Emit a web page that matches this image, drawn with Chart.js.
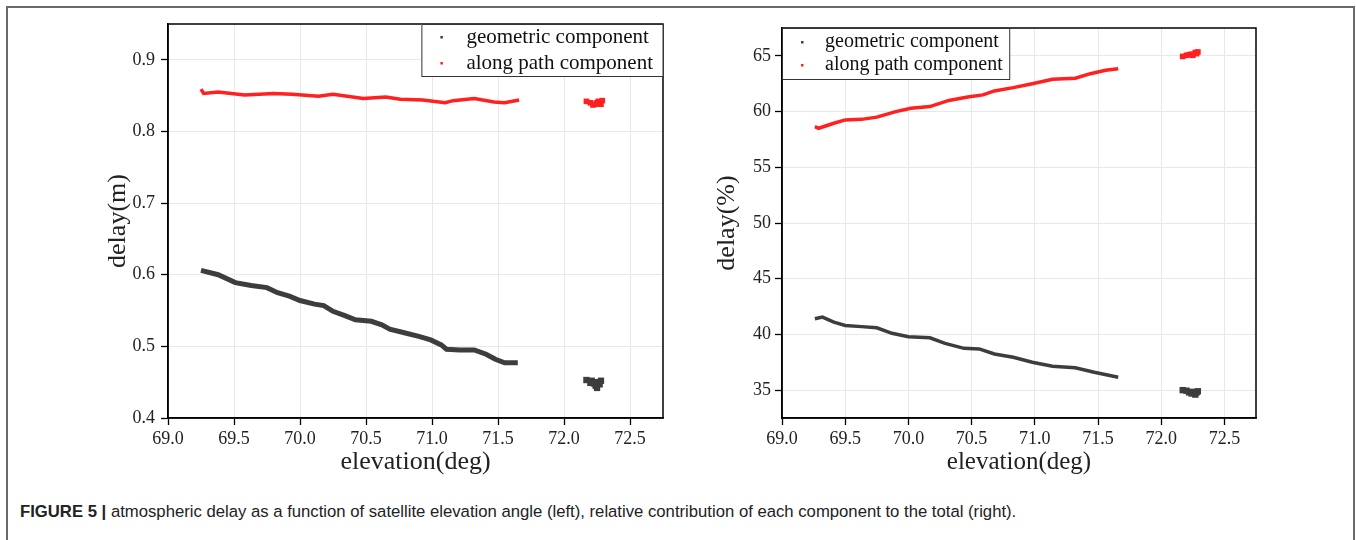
<!DOCTYPE html>
<html>
<head>
<meta charset="utf-8">
<script src="https://cdn.jsdelivr.net/npm/chart.js@4.4.1/dist/chart.umd.min.js"></script>
<style>
  body { margin: 0; background: #fff; width: 1356px; height: 540px; overflow: hidden; position: relative; }
  #frame { position: absolute; left: 6px; top: 6px; width: 1345px; height: 600px;
           border: 2px solid #6a6a6a; border-bottom: none; }
  canvas { position: absolute; top: 0; }
  #c1 { left: 90px; }
  #c2 { left: 690px; }
  #caption { position: absolute; left: 20px; top: 502px; font: 16.7px "Liberation Sans", Arial, sans-serif; color: #222; white-space: nowrap; }
  #caption b { font-weight: bold; }
</style>
</head>
<body>
<div id="frame"></div>
<canvas id="c1" width="590" height="480"></canvas>
<canvas id="c2" width="580" height="480"></canvas>
<div id="caption"><b>FIGURE 5 |</b> atmospheric delay as a function of satellite elevation angle (left), relative contribution of each component to the total (right).</div>
<script>
// ---- data ----
var xTicks = [69.0, 69.5, 70.0, 70.5, 71.0, 71.5, 72.0, 72.5];
var yTicksL = [0.4, 0.5, 0.6, 0.7, 0.8, 0.9];
var yTicksR = [35, 40, 45, 50, 55, 60, 65];

// left: delay (m)
var geoElevL = [69.25, 69.38, 69.51, 69.63, 69.75, 69.83, 69.92, 70.0, 70.11, 70.18, 70.25, 70.34, 70.42, 70.54, 70.62, 70.68, 70.79, 70.9, 70.99, 71.07, 71.11, 71.21, 71.32, 71.41, 71.48, 71.55, 71.65];
var geoDelayL = [0.606, 0.600, 0.589, 0.585, 0.582, 0.575, 0.570, 0.564, 0.559, 0.557, 0.549, 0.543, 0.537, 0.535, 0.530, 0.524, 0.519, 0.514, 0.509, 0.502, 0.496, 0.495, 0.495, 0.489, 0.482, 0.477, 0.477];
var pathElevL = [69.25, 69.27, 69.38, 69.58, 69.8, 69.94, 70.14, 70.25, 70.48, 70.65, 70.76, 70.93, 71.1, 71.16, 71.32, 71.47, 71.55, 71.66];
var pathDelayL = [0.859, 0.853, 0.855, 0.851, 0.853, 0.852, 0.849, 0.852, 0.846, 0.848, 0.845, 0.844, 0.840, 0.843, 0.846, 0.841, 0.840, 0.844];
var geoBlobElevL = [72.17, 72.21, 72.25, 72.28, 72.27, 72.24, 72.25, 72.2, 72.23];
var geoBlobDelayL = [0.453, 0.452, 0.450, 0.452, 0.447, 0.445, 0.442, 0.449, 0.448];
var pathBlobElevL = [72.17, 72.2, 72.24, 72.28, 72.29, 72.26, 72.22, 72.25];
var pathBlobDelayL = [0.842, 0.840, 0.838, 0.838, 0.843, 0.842, 0.837, 0.840];

// right: delay (%)
var geoElevR = [69.26, 69.32, 69.41, 69.5, 69.63, 69.75, 69.87, 70.0, 70.17, 70.29, 70.44, 70.56, 70.68, 70.83, 70.98, 71.14, 71.32, 71.47, 71.66];
var geoPctR = [41.4, 41.55, 41.1, 40.8, 40.7, 40.6, 40.1, 39.8, 39.7, 39.2, 38.75, 38.7, 38.25, 37.95, 37.5, 37.15, 37.0, 36.6, 36.15];
var pathElevR = [69.26, 69.29, 69.41, 69.5, 69.63, 69.75, 69.9, 70.02, 70.17, 70.32, 70.47, 70.59, 70.68, 70.83, 70.98, 71.14, 71.32, 71.44, 71.56, 71.66];
var pathPctR = [58.65, 58.5, 58.95, 59.25, 59.3, 59.5, 60.0, 60.3, 60.45, 61.0, 61.3, 61.5, 61.85, 62.15, 62.5, 62.9, 63.0, 63.4, 63.7, 63.85];
var geoBlobElevR = [72.17, 72.2, 72.24, 72.28, 72.27, 72.24, 72.29, 72.22];
var geoBlobPctR = [35.0, 34.95, 34.85, 34.8, 34.6, 34.7, 34.9, 34.8];
var pathBlobElevR = [72.17, 72.2, 72.24, 72.28, 72.29, 72.25, 72.27, 72.22];
var pathBlobPctR = [64.95, 65.05, 65.15, 65.2, 65.35, 65.05, 65.3, 65.1];

var labels = ['geometric component', 'along path component'];
var geoColor = '#3d3d3d';
var pathColor = '#ff2020';

function pts(xs, ys) {
	var out = [];
	for (var i = 0; i < xs.length; i++) out.push({x: xs[i], y: ys[i]});
	return out;
}

// black frame round the plot area (top/right too)
var frame = {
	id: 'frame',
	afterDatasetsDraw: function(chart) {
		var a = chart.chartArea, ctx = chart.ctx;
		ctx.save();
		ctx.strokeStyle = '#000';
		ctx.lineWidth = 1.5;
		ctx.strokeRect(a.left, a.top, a.right - a.left, a.bottom - a.top);
		ctx.restore();
	}
};

// legend box drawn inside the plot, like the original
var boxLegend = {
	id: 'boxLegend',
	afterDraw: function(chart, args, o) {
		var ctx = chart.ctx, a = chart.chartArea;
		var items = chart.data.datasets.filter(function(d) { return !d.noLegend; });
		ctx.save();
		ctx.font = o.size + 'px "Liberation Serif", "Times New Roman", serif';
		var tw = 0;
		items.forEach(function(d) { tw = Math.max(tw, ctx.measureText(d.label).width); });
		var w = o.textX + tw + o.padR;
		var h = o.height;
		var x0 = o.align === 'right' ? a.right - w : a.left;
		var y0 = a.top;
		ctx.fillStyle = '#fff';
		ctx.fillRect(x0, y0, w, h);
		ctx.strokeStyle = '#333';
		ctx.lineWidth = 1;
		ctx.strokeRect(x0 + 0.5, y0 + 0.5, w - 0.5, h);
		items.forEach(function(d, i) {
			var y = y0 + o.firstRow + i * o.rowH;
			ctx.fillStyle = d.borderColor;
			ctx.fillRect(x0 + o.markX - 1, y - 1, 2.5, 2.5);
			ctx.fillStyle = '#111';
			ctx.textBaseline = 'middle';
			ctx.fillText(d.label, x0 + o.textX, y);
		});
		ctx.restore();
	}
};

function makeChart(id, cfg) {
	var serif = '"Liberation Serif", "Times New Roman", serif';
	return new Chart(document.getElementById(id), {
		type: 'scatter',
		data: {
			datasets: [
				{label: labels[0], data: cfg.geo, showLine: true, borderColor: geoColor, backgroundColor: geoColor, borderWidth: cfg.geoW, pointRadius: 0, tension: 0},
				{label: labels[1], data: cfg.path, showLine: true, borderColor: pathColor, backgroundColor: pathColor, borderWidth: cfg.pathW, pointRadius: 0, tension: 0},
				{label: 'geo blob', noLegend: true, data: cfg.geoBlob, borderColor: geoColor, backgroundColor: geoColor, pointStyle: 'rect', pointRadius: 4.5, borderWidth: 0},
				{label: 'path blob', noLegend: true, data: cfg.pathBlob, borderColor: pathColor, backgroundColor: pathColor, pointStyle: 'rect', pointRadius: 4, borderWidth: 0}
			]
		},
		options: {
			responsive: false,
			animation: false,
			events: [],
			layout: {padding: {top: cfg.padTop, right: cfg.padRight, left: 0, bottom: 0}},
			plugins: {
				legend: {display: false},
				tooltip: {enabled: false},
				boxLegend: cfg.legend
			},
			scales: {
				x: {
					type: 'linear', min: 69.0, max: 72.75,
					afterBuildTicks: function(s) { s.ticks = xTicks.map(function(v) { return {value: v}; }); },
					afterFit: function(s) { s.height = cfg.xAxisH; },
					ticks: {font: {family: serif, size: 18}, color: '#222', padding: 3, maxRotation: 0,
						callback: function(v) { return v.toFixed(1); }},
					grid: {color: '#e8e8e8', lineWidth: 1, tickColor: '#000', tickLength: 7, tickWidth: 1.3},
					border: {color: '#000', width: 1.5},
					title: {display: true, text: 'elevation(deg)', color: '#222',
						font: {family: serif, size: cfg.xTitleSize, lineHeight: 1}, padding: {top: 0, bottom: cfg.xTitlePad}}
				},
				y: {
					type: 'linear', min: cfg.yMin, max: cfg.yMax,
					afterBuildTicks: function(s) { s.ticks = cfg.yTicks.map(function(v) { return {value: v}; }); },
					afterFit: function(s) { s.width = cfg.yAxisW; },
					ticks: {font: {family: serif, size: 18}, color: '#222', padding: cfg.yTickPad,
						callback: cfg.yFmt},
					grid: {color: '#e8e8e8', lineWidth: 1, tickColor: '#000', tickLength: 7, tickWidth: 1.3},
					border: {color: '#000', width: 1.5},
					title: {display: true, text: cfg.yTitle, color: '#222',
						font: {family: serif, size: 26, lineHeight: 1}, padding: {top: cfg.yTitlePad, bottom: 0}}
				}
			}
		},
		plugins: [frame, boxLegend]
	});
}

makeChart('c1', {
	geo: pts(geoElevL, geoDelayL), path: pts(pathElevL, pathDelayL),
	geoBlob: pts(geoBlobElevL, geoBlobDelayL), pathBlob: pts(pathBlobElevL, pathBlobDelayL),
	geoW: 5, pathW: 3.5,
	yMin: 0.4, yMax: 0.95, yTicks: yTicksL, yFmt: function(v) { return v.toFixed(1); },
	yTitle: 'delay(m)', yTitlePad: 15, yAxisW: 78, yTickPad: 6,
	xAxisH: 62, xTitleSize: 26, xTitlePad: 5,
	padTop: 24, padRight: 17,
	legend: {align: 'right', size: 21, textX: 45, padR: 10, markX: 20, firstRow: 13, rowH: 26, height: 52}
});

makeChart('c2', {
	geo: pts(geoElevR, geoPctR), path: pts(pathElevR, pathPctR),
	geoBlob: pts(geoBlobElevR, geoBlobPctR), pathBlob: pts(pathBlobElevR, pathBlobPctR),
	geoW: 3.5, pathW: 3.5,
	yMin: 32.5, yMax: 67.5, yTicks: yTicksR, yFmt: function(v) { return String(v); },
	yTitle: 'delay(%)', yTitlePad: 24, yAxisW: 92, yTickPad: 4,
	xAxisH: 62, xTitleSize: 25, xTitlePad: 5,
	padTop: 28, padRight: 14,
	legend: {align: 'left', size: 20, textX: 43, padR: 7, markX: 20, firstRow: 14, rowH: 23, height: 51}
});
</script>
</body>
</html>
